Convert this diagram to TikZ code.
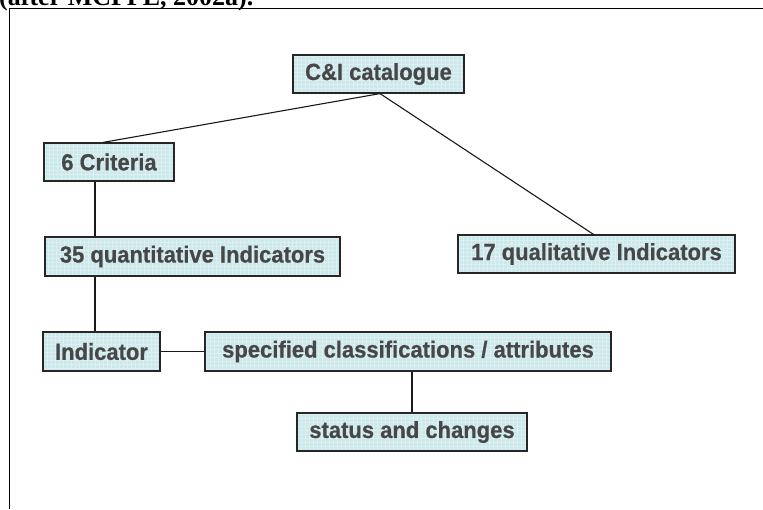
\documentclass[tikz,border=0pt]{standalone}
\usepackage{fontspec}
\setmainfont{Liberation Sans}[BoldFeatures={FakeBold=0.6}]
\newfontfamily\captionserif{Liberation Serif}
\usetikzlibrary{calc}
\definecolor{boxfill}{HTML}{CCE8EB}
\definecolor{boxgrid}{HTML}{DCF0F2}
\definecolor{boxtext}{HTML}{474747}
\newcommand{\tall}[1]{\scalebox{1}[1.06]{#1}}
\tikzset{
  box/.style={draw=black!85, line width=1.2pt, fill=boxfill, text=boxtext,
    inner sep=0pt, font=\fontsize{22}{26}\selectfont\bfseries,
    path picture={\draw [boxgrid, line width=0.4pt, step=4pt]
      (path picture bounding box.south west) grid (path picture bounding box.north east);}},
  link/.style={line width=1.1pt, black!90}
}

\begin{document}
\begin{tikzpicture}[x=1pt, y=-1pt]
      \useasboundingbox (0, 0) rectangle (763, 509);
      \begin{scope}
        \clip (0, 0) rectangle (763, 509);
        \node (cap) at (-1, 5) [anchor=base west, inner sep=0pt,
          font=\captionserif\fontsize{26}{30}\selectfont\bfseries] {(after MCPFE, 2002a).};
      \end{scope}
      \draw [line width=1pt] (9, 509) -- (9, 8) -- (763, 8);

      \node (cat) at (378.5, 74) [box, minimum width=171, minimum height=38] {\tall{C\&I catalogue}};
      \node (crit) at (109, 162) [box, minimum width=130, minimum height=38] {\tall{6 Criteria}\hspace{10pt}};
      \node (quant) at (192.5, 256.5) [box, minimum width=295, minimum height=39] {\tall{35 quantitative Indicators}};
      \node (qual) at (596.5, 254) [box, minimum width=277, minimum height=38] {\tall{17 qualitative Indicators}};
      \node (ind) at (101.5, 351.5) [box, minimum width=117, minimum height=39] {\tall{Indicator}};
      \node (spec) at (408, 351.5) [box, minimum width=406, minimum height=39] {\tall{specified classifications / attributes}};
      \node (stat) at (412, 432) [box, minimum width=230, minimum height=38] {\tall{status and changes}};

      \coordinate (spine) at (95, 0);
      \draw [link] ([xshift=1.5]cat.south) -- ([xshift=-6]crit.north);
      \draw [link] ([xshift=1.5]cat.south) -- ([xshift=-3]qual.north);
      \draw [link] (crit.south -| spine) -- (quant.north -| spine);
      \draw [link] (quant.south -| spine) -- (ind.north -| spine);
      \draw [link] (ind.east) -- (spec.west);
      \draw [link] (stat.north |- spec.south) -- (stat.north);
    \end{tikzpicture}
\end{document}
